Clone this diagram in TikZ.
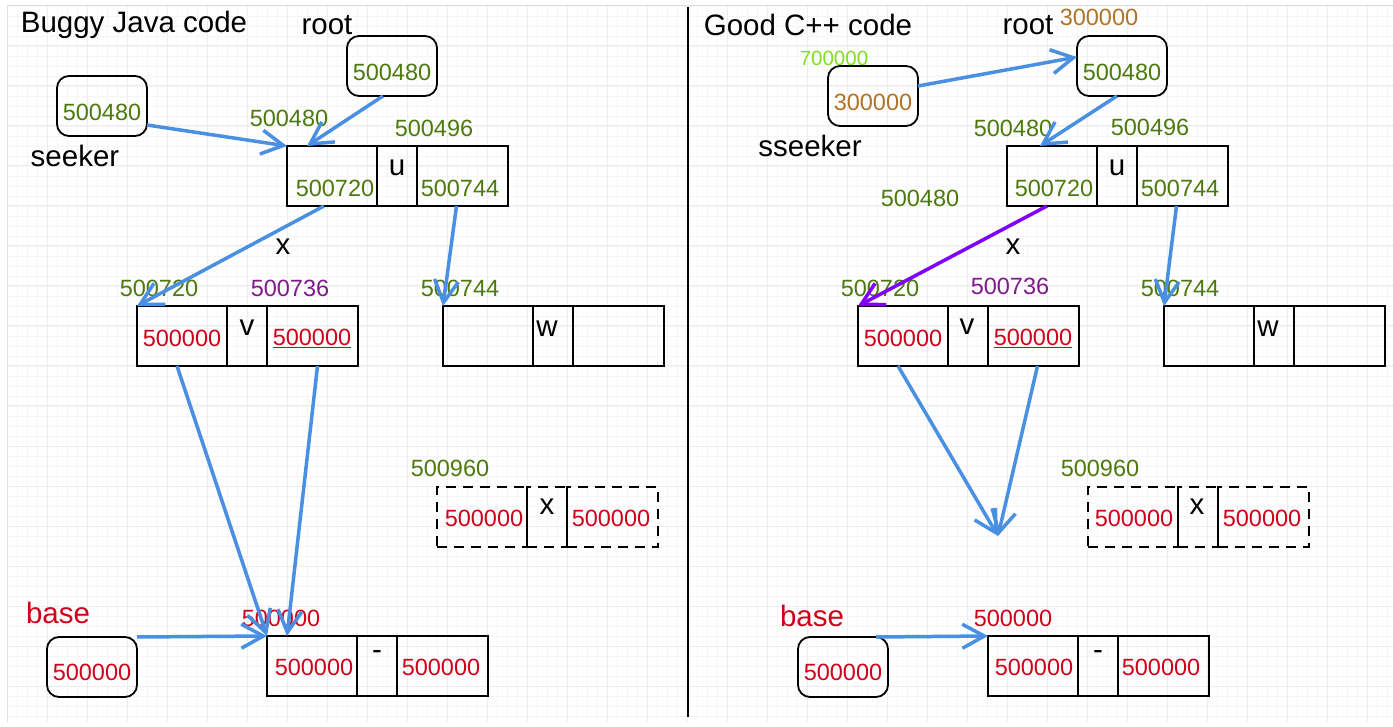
\documentclass[tikz,border=0pt]{standalone}
\usepackage{fontspec}
\setmainfont{Liberation Sans}
\usetikzlibrary{arrows.meta,calc}
\definecolor{cgreen}{RGB}{77,122,13}
\definecolor{cred}{RGB}{208,2,27}
\definecolor{cpurp}{RGB}{128,26,140}
\definecolor{cviolet}{RGB}{127,0,255}
\definecolor{cbrown}{RGB}{176,116,40}
\definecolor{clime}{RGB}{128,224,32}
\definecolor{cblue}{RGB}{74,144,226}
\newcommand\recnode[4]{%
  \node[cell,#4,minimum width=90pt,anchor=north west] (#1a) at (#2,#3) {};
  \node[cell,#4,minimum width=40pt,anchor=north west] (#1b) at (#1a.north east) {};
  \node[cell,#4,minimum width=91pt,anchor=north west] (#1c) at (#1b.north east) {};
}
\begin{document}
\begin{tikzpicture}[x=1pt,y=-1pt,
  cell/.style={draw=black,line width=1.8pt,minimum height=60pt,inner sep=0pt,outer sep=0pt},
  dcell/.style={dash pattern=on 10pt off 7pt},
  rbox/.style={draw=black,line width=1.8pt,rounded corners=12pt,minimum width=90pt,minimum height=60pt,inner sep=0pt,outer sep=0pt},
  num/.style={font=\fontsize{23.5}{28}\selectfont,inner sep=0pt},
  lab/.style={font=\fontsize{29.5}{35}\selectfont,inner sep=0pt},
  ptr/.style={draw=cblue,line width=3.5pt,-{Straight Barb[length=22pt,width=24pt]}},
]
\useasboundingbox (0,0) rectangle (1393,727);
\fill[white] (0,0) rectangle (1393,727);
% grid
\foreach \i in {0,...,138} {\draw[black!4,line width=0.8pt] ({7+10*\i},6) -- ({7+10*\i},722);}
\foreach \j in {0,...,71} {\draw[black!4,line width=0.8pt] (7,{6+10*\j}) -- (1393,{6+10*\j});}
\foreach \i in {0,...,34} {\draw[black!7,line width=1pt] ({7+40*\i},6) -- ({7+40*\i},722);}
\foreach \j in {0,...,17} {\draw[black!7,line width=1pt] (7,{6+40*\j}) -- (1393,{6+40*\j});}
\draw[black!12,line width=1pt] (7,722) -- (7,6) -- (1393,6);
% divider
\draw[line width=2pt] (688,7) -- (688,717);

%%%%%%%% LEFT %%%%%%%%
\node[lab] (t1) at (134,25) {Buggy Java code};
\node[lab] (rootL1) at (327,25) {root};
\node[rbox] (rootB1) at (392,66) {};
\node[num,text=cgreen] (rootT1) at (392,72) {500480};
\node[rbox] (seekB1) at (102,106) {};
\node[num,text=cgreen] (seekT1) at (102,112) {500480};
\node[lab] (seekL1) at (75,156) {seeker};
\node[num,text=cgreen] (uaddr1) at (289,118) {500480};
\node[num,text=cgreen] (uaddr1b) at (434,128) {500496};
\recnode{u1}{287}{146}{}
\node[num,text=cgreen] (u1at) at (335,188) {500720};
\node[lab] (u1bt) at (397,168) {u};
\node[num,text=cgreen] (u1ct) at (460,188) {500744};
\node[lab] (x1) at (283,247) {x};
\node[num,text=cgreen] (vaddr1) at (159,288) {500720};
\node[num,text=cpurp] (vaddr1b) at (290,288) {500736};
\node[num,text=cgreen] (waddr1) at (460,288) {500744};
\recnode{v1}{137}{306}{}
\node[num,text=cred] (v1at) at (182,338) {500000};
\node[lab] (v1bt) at (247,328) {v};
\node[num,text=cred] (v1ct) at (312,338) {\underline{500000}};
\recnode{w1}{443}{306}{}
\node[lab] (w1bt) at (547,329) {w};
\node[num,text=cgreen] (xaddr1) at (450,468) {500960};
\recnode{d1}{437}{487}{dcell}
\node[num,text=cred] (d1at) at (484,518) {500000};
\node[lab] (d1bt) at (547,507) {x};
\node[num,text=cred] (d1ct) at (611,518) {500000};
\node[lab,text=cred] (baseL1) at (58,613) {base};
\node[rbox] (baseB1) at (92,667) {};
\node[num,text=cred] (baseT1) at (92,672) {500000};
\node[num,text=cred] (baddr1) at (281,618) {500000};
\recnode{b1}{267}{636}{}
\node[num,text=cred] (b1at) at (314,667) {500000};
\node[lab] (b1bt) at (377,655) {-};
\node[num,text=cred] (b1ct) at (441,667) {500000};
% arrows left
\draw[ptr] ($(seekB1.east)+(0,19)$) -- (u1a.north west);
\draw[ptr] ($(rootB1.south)+(-9,0)$) -- ($(u1a.north west)+(20,0)$);
\draw[ptr] ($(u1a.south)+(-8,0)$) -- (v1a.north west);
\draw[ptr] ($(u1c.south)+(-6,0)$) -- (w1a.north west);
\draw[ptr] ($(v1a.south)+(-5,0)$) -- (b1a.north west);
\draw[ptr] ($(v1c.south)+(5,0)$) -- ($(b1a.north west)+(20,0)$);
\draw[ptr] (baseB1.north east) -- (b1a.north west);

%%%%%%%% RIGHT %%%%%%%%
\node[lab] (t2) at (808,25) {Good C++ code};
\node[lab] (rootL2) at (1028,25) {root};
\node[num,text=cbrown] (rootA2) at (1099,17) {300000};
\node[rbox] (rootB2) at (1122,66) {};
\node[num,text=cgreen] (rootT2) at (1122,72) {500480};
\node[num,text=clime,font=\fontsize{20.5}{24}\selectfont] (seekA2) at (834,58) {700000};
\node[rbox] (seekB2) at (873,96) {};
\node[num,text=cbrown] (seekT2) at (873,102) {300000};
\node[lab] (seekL2) at (810,146) {sseeker};
\node[num,text=cgreen] (uaddr2) at (1013,128) {500480};
\node[num,text=cgreen] (uaddr2b) at (1150,127) {500496};
\recnode{u2}{1007}{146}{}
\node[num,text=cgreen] (u2at) at (1054,188) {500720};
\node[lab] (u2bt) at (1117,168) {u};
\node[num,text=cgreen] (u2ct) at (1180,188) {500744};
\node[num,text=cgreen] (free2) at (920,198) {500480};
\node[lab] (x2) at (1013,247) {x};
\node[num,text=cgreen] (vaddr2) at (880,288) {500720};
\node[num,text=cpurp] (vaddr2b) at (1010,286) {500736};
\node[num,text=cgreen] (waddr2) at (1180,288) {500744};
\recnode{v2}{858}{306}{}
\node[num,text=cred] (v2at) at (903,338) {500000};
\node[lab] (v2bt) at (967,327) {v};
\node[num,text=cred] (v2ct) at (1033,338) {\underline{500000}};
\recnode{w2}{1164}{306}{}
\node[lab] (w2bt) at (1268,329) {w};
\coordinate (meet2) at (998,536);
\node[num,text=cgreen] (xaddr2) at (1100,468) {500960};
\recnode{d2}{1088}{487}{dcell}
\node[num,text=cred] (d2at) at (1134,518) {500000};
\node[lab] (d2bt) at (1197,507) {x};
\node[num,text=cred] (d2ct) at (1262,518) {500000};
\node[lab,text=cred] (baseL2) at (812,616) {base};
\node[rbox] (baseB2) at (843,667) {};
\node[num,text=cred] (baseT2) at (843,672) {500000};
\node[num,text=cred] (baddr2) at (1013,618) {500000};
\recnode{b2}{988}{636}{}
\node[num,text=cred] (b2at) at (1034,667) {500000};
\node[lab] (b2bt) at (1098,655) {-};
\node[num,text=cred] (b2ct) at (1161,667) {500000};
% arrows right
\draw[ptr] ($(seekB2.east)+(0,-10)$) -- ($(rootB2.west)+(0,-9)$);
\draw[ptr] ($(rootB2.south)+(-5,0)$) -- ($(u2a.north west)+(33,0)$);
\draw[ptr,draw=cviolet] ($(u2a.south)+(-5,0)$) -- (v2a.north west);
\draw[ptr] ($(u2c.south)+(-6,0)$) -- (w2a.north west);
\draw[ptr] ($(v2a.south)+(-5,0)$) -- (meet2);
\draw[ptr] ($(v2c.south)+(4,0)$) -- (meet2);
\draw[ptr] ($(baseB2.north east)+(-12,0)$) -- (b2a.north west);
\end{tikzpicture}
\end{document}
